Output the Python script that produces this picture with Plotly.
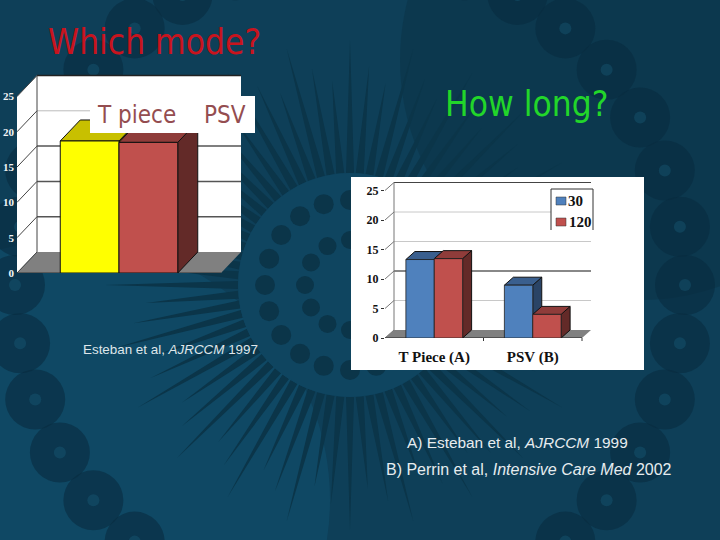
# plot.py
import numpy as np
import plotly.graph_objects as go

W, H = 720, 540

# левый график: какой режим
mode_category = ["Mode"]
mode_names = ["T piece", "PSV"]
mode_values = [18.7, 18.5]

# правый график: как долго
long_categories = ["T Piece (A)", "PSV (B)"]
long_names = ["30", "120"]
long_30 = [13.3, 8.95]
long_120 = [13.45, 4.0]

tick_values = [0, 5, 10, 15, 20, 25]
BARGAP = 0.424


def px(x):
    return x / W


def py(y):
    return 1 - y / H


def circle(cx, cy, r, color, opacity=1.0):
    return dict(type="circle", xref="paper", yref="paper", layer="below",
                x0=px(cx - r), x1=px(cx + r), y0=py(cy + r), y1=py(cy - r),
                fillcolor=color, opacity=opacity, line=dict(width=0))


def poly(points, xref, yref, fill, line_color=None, line_width=1, layer="below"):
    path = "M " + " L ".join(f"{a},{b}" for a, b in points) + " Z"
    line = dict(color=line_color, width=line_width) if line_color else dict(width=0)
    return dict(type="path", xref=xref, yref=yref, path=path, fillcolor=fill, line=line, layer=layer)


def seg(x0, y0, x1, y1, xref, yref, color, width=1, layer="below"):
    return dict(type="line", xref=xref, yref=yref, x0=x0, y0=y0, x1=x1, y1=y1,
                line=dict(color=color, width=width), layer=layer)


# фон слайда: "цветок" из лепестков и колец точек
shapes = [dict(type="rect", xref="paper", yref="paper", x0=0, x1=1, y0=0, y1=1,
               fillcolor="#0e3f58", line=dict(width=0), layer="below")]
shapes.append(circle(70, 500, 260, "#11587c", 0.35))
shapes.append(circle(640, 60, 240, "#0b3043", 0.45))
CX, CY = 350, 285
c = np.array([CX, CY])
for k, a in enumerate(np.arange(0, 360, 5.0)):
    t = np.radians(a)
    d = np.array([np.cos(t), np.sin(t)])
    n = np.array([-d[1], d[0]])
    pts = [c + d * 112 - n * 4, c + d * (205 + 40 * (k % 3 == 0) + 15 * (k % 3 == 1)), c + d * 112 + n * 4]
    shapes.append(poly([(round(px(p[0]), 4), round(py(p[1]), 4)) for p in pts], "paper", "paper", "#0b3549"))
shapes.append(circle(CX, CY, 112, "#0f4560"))
for r, step, size in [(85, 18, 10), (45, 30, 9)]:
    for a in np.arange(0, 360, step):
        t = np.radians(a)
        shapes.append(circle(CX + r * np.cos(t), CY + r * np.sin(t), size, "#0b3549"))
for a in np.arange(0, 360, 10):
    t = np.radians(a)
    ex, ey = CX + 335 * np.cos(t), CY + 335 * np.sin(t)
    shapes.append(circle(ex, ey, 30, "#082c40", 0.6))
    shapes.append(circle(ex, ey, 6, "#1d6a88", 0.3))

# белая подложка правой картинки
shapes.append(dict(type="rect", xref="paper", yref="paper", x0=px(351), x1=px(644), y0=py(370), y1=py(177),
                   fillcolor="#ffffff", line=dict(width=0), layer="below"))


def add_walls(xr, yr, x_left, x_right, dx, dy, top, grid_styles, wall_line, floor_line):
    """Стенки и пол псевдо-3D графика"""
    shapes.append(poly([(x_left, 0), (x_left + dx, dy), (x_left + dx, top + dy), (x_left, top)], xr, yr, "#ffffff"))
    shapes.append(poly([(x_left + dx, dy), (x_right + dx, dy), (x_right + dx, top + dy), (x_left + dx, top + dy)],
                       xr, yr, "#ffffff"))
    shapes.append(poly([(x_left, 0), (x_right, 0), (x_right + dx, dy), (x_left + dx, dy)], xr, yr, "#808080"))
    for v in tick_values:
        shapes.append(seg(x_left, v, x_left + dx, v + dy, xr, yr, wall_line))
    for v, (color, width) in zip(tick_values[1:], grid_styles):
        shapes.append(seg(x_left + dx, v + dy, x_right + dx, v + dy, xr, yr, color, width))
    shapes.append(seg(x_left + dx, dy, x_left + dx, top + dy, xr, yr, wall_line))
    shapes.append(seg(x_left, 0, x_right, 0, xr, yr, floor_line))


def add_box(xr, yr, x0, x1, value, dx, dy, top_color, side_color):
    """Верхняя и боковая грани столбика, сам столбик рисует go.Bar"""
    shapes.append(poly([(x1, 0), (x1 + dx, dy), (x1 + dx, value + dy), (x1, value)], xr, yr, side_color, "#111111"))
    shapes.append(poly([(x0, value), (x1, value), (x1 + dx, value + dy), (x0 + dx, value + dy)], xr, yr,
                       top_color, "#111111"))


fig = go.Figure()

# --- левый график ---
ppu1 = 7.06
cat1 = 204.0
dx1, dy1 = 20 / cat1, 21 / ppu1
bar1 = (1 - BARGAP) / 2
add_walls("x", "y", -0.5, 0.5, dx1, dy1, 25,
          [("#555555", 1.5), ("#555555", 1.5), ("#555555", 1.5), ("#bbbbbb", 1), ("#222222", 1.5)],
          "#444444", "#333333")
mode_colors = ["#ffff00", "#c0504d"]
mode_tops = ["#c8c000", "#8f3c3a"]
mode_sides = ["#8a8500", "#632a28"]
for i in range(2):
    add_box("x", "y", -bar1 + i * bar1, i * bar1, mode_values[i], dx1, dy1, mode_tops[i], mode_sides[i])
    fig.add_trace(go.Bar(x=mode_category, y=[mode_values[i]], name=mode_names[i], xaxis="x", yaxis="y",
                         marker=dict(color=mode_colors[i], line=dict(color="#111111", width=1)),
                         showlegend=False))

# --- правый график ---
ppu2 = 5.9
cat2 = 98.5
dx2, dy2 = 9 / cat2, 8 / ppu2
bar2 = (1 - BARGAP) / 2
add_walls("x2", "y2", -0.5, 1.5, dx2, dy2, 25,
          [("#c8c8c8", 1), ("#888888", 2.2), ("#c8c8c8", 1), ("#c8c8c8", 1), ("#444444", 1)],
          "#777777", "#222222")
series2 = [long_30, long_120]
long_colors = ["#4f81bd", "#c0504d"]
long_tops = ["#3a5f8e", "#8f3c3a"]
long_sides = ["#2a4466", "#632a28"]
for k in range(2):
    for i in range(2):
        add_box("x2", "y2", k - bar2 + i * bar2, k + i * bar2, series2[i][k], dx2, dy2, long_tops[i], long_sides[i])
for i in range(2):
    fig.add_trace(go.Bar(x=long_categories, y=series2[i], name=long_names[i], xaxis="x2", yaxis="y2",
                         marker=dict(color=long_colors[i], line=dict(color="#222222", width=0.8)),
                         showlegend=False))

# мелкие штрихи под осью правого графика
for t in [0.5, 1.5]:
    tx = 385 + (t + 0.5) * cat2
    shapes.append(seg(px(tx), py(338), px(tx), py(341), "paper", "paper", "#333333"))

# легенда правого графика: снизу без рамки, как в оригинале
shapes.append(dict(type="rect", xref="paper", yref="paper", x0=px(551), x1=px(593), y0=py(230), y1=py(189),
                   fillcolor="#ffffff", line=dict(width=0), layer="above"))
for xa, ya, xb, yb in [(551, 230, 551, 189), (551, 189, 593, 189), (593, 189, 593, 230)]:
    shapes.append(seg(px(xa), py(ya), px(xb), py(yb), "paper", "paper", "#333333", layer="above"))
for i, y_top in enumerate([197, 218]):
    shapes.append(dict(type="rect", xref="paper", yref="paper", x0=px(556), x1=px(566), y0=py(y_top + 8), y1=py(y_top),
                       fillcolor=long_colors[i], line=dict(color="#333333", width=0.5), layer="above"))

# белая плашка с подписями левого графика
shapes.append(dict(type="rect", xref="paper", yref="paper", x0=px(90), x1=px(255), y0=py(133), y1=py(96),
                   fillcolor="#ffffff", line=dict(width=0), layer="above"))


def note(text, x, y, size, color, family="DejaVu Sans Condensed"):
    return dict(text=text, xref="paper", yref="paper", x=px(x), y=py(y), xanchor="left", yanchor="middle",
                showarrow=False, font=dict(size=size, color=color, family=family))


annotations = [
    note("Which mode?", 46, 42, 35, "#c8141e"),
    note("How long?", 443, 104, 35, "#22d62a"),
    note(mode_names[0], 95, 115, 24, "#944d50"),
    note(mode_names[1], 202, 115, 24, "#944d50"),
    note("Esteban et al, <i>AJRCCM</i> 1997", 81, 349, 13.4, "#dfe6ea", "Liberation Sans"),
    note("A) Esteban et al, <i>AJRCCM</i> 1999", 405, 442, 15.4, "#e6ecef", "Liberation Sans"),
    note("B) Perrin et al, <i>Intensive Care Med</i> 2002", 384, 469, 16, "#e6ecef", "Liberation Sans"),
    note(f"<b>{long_names[0]}</b>", 566, 201, 15, "#111111", "Liberation Serif"),
    note(f"<b>{long_names[1]}</b>", 567, 222, 15, "#111111", "Liberation Serif"),
]

fig.update_layout(
    width=W,
    height=H,
    margin=dict(l=0, r=0, t=0, b=0, autoexpand=False),
    paper_bgcolor="#0e3f58",
    plot_bgcolor="rgba(0,0,0,0)",
    barmode="group",
    bargap=BARGAP,
    bargroupgap=0,
    showlegend=False,
    shapes=shapes,
    annotations=annotations,
    xaxis=dict(domain=[px(17), px(241)], range=[-0.5, 0.5 + dx1], showgrid=False, zeroline=False,
               showticklabels=False, ticks=""),
    yaxis=dict(domain=[py(273), py(74)], range=[0, 199 / ppu1], tickvals=tick_values, showgrid=False,
               zeroline=False, ticks="", ticklabelstandoff=2,
               tickfont=dict(family="Liberation Serif", size=11, color="#f2f5f6", weight=700)),
    xaxis2=dict(domain=[px(385), px(592)], range=[-0.5, 1.5 + 10 / cat2], showgrid=False, zeroline=False,
                anchor="y2", ticks="", ticklabelstandoff=8,
                tickfont=dict(family="Liberation Serif", size=15, color="#111111", weight=700)),
    yaxis2=dict(domain=[py(338), py(181)], range=[0, 157 / ppu2], tickvals=tick_values, showgrid=False,
                zeroline=False, anchor="x2", ticks="outside", ticklen=3, tickcolor="#333333",
                tickfont=dict(family="Liberation Serif", size=12, color="#111111", weight=700)),
)

fig.write_html("out.html", config=dict(displayModeBar=False),
               post_script="document.body.style.margin='0';document.body.style.overflow='hidden';")
